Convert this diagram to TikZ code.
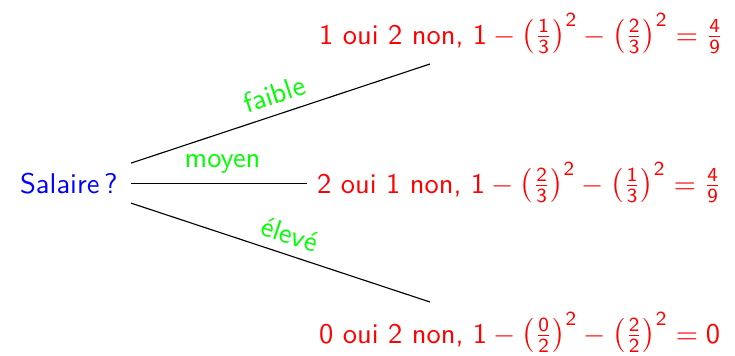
\documentclass[tikz,border=0pt]{standalone}
\DeclareSymbolFont{operators}{OT1}{cmss}{m}{n}
\SetSymbolFont{operators}{bold}{OT1}{cmss}{bx}{n}
\renewcommand{\familydefault}{\sfdefault}
\usetikzlibrary{calc}
\tikzset{
  rootnode/.style={text=blue, inner xsep=4.5pt},
  leafnode/.style={text=red, anchor=base west, inner ysep=0pt},
  branch/.style={draw=black, line width=0.4pt},
  edgelabel/.style={text=green, sloped, above},
}
\begin{document}
\begin{tikzpicture}[x=0.351pt, y=-0.351pt]
\useasboundingbox (0,0) rectangle (735,355);
\node[rootnode, anchor=base east] (root) at (131,193) {Salaire\,?};
\node[leafnode] (l1) at (309,44) {1 oui 2 non, $1-\left(\frac{1}{3}\right)^2-\left(\frac{2}{3}\right)^2=\frac{4}{9}$};
\node[leafnode] (l2) at (307,193) {2 oui 1 non, $1-\left(\frac{2}{3}\right)^2-\left(\frac{1}{3}\right)^2=\frac{4}{9}$};
\node[leafnode] (l3) at (309,343) {0 oui 2 non, $1-\left(\frac{0}{2}\right)^2-\left(\frac{2}{2}\right)^2=0$};
\coordinate (e1) at (430,64);
\coordinate (e3) at (430,302);
\draw[branch] ($(root.east)+(0,-20)$) -- node[edgelabel, pos=0.5] {faible} (e1);
\draw[branch] (root.east) -- node[edgelabel, pos=0.52, sloped=false] {moyen} (l2.west |- root.east);
\draw[branch] ($(root.east)+(0,20)$) -- node[edgelabel, pos=0.51] {élevé} (e3);
\end{tikzpicture}
\end{document}
